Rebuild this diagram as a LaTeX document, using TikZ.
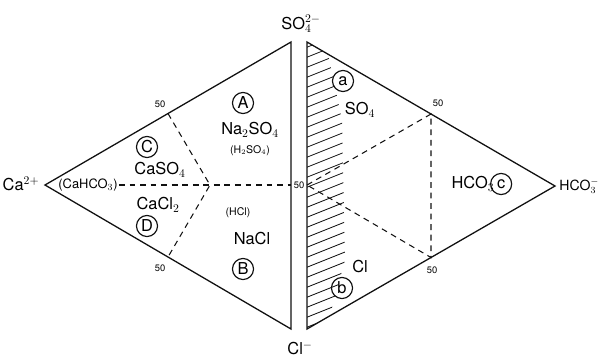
\documentclass[tikz,border=0pt]{standalone}
\usepackage{fontspec}
\setsansfont{TeX Gyre Heros}
\usetikzlibrary{calc}
\begin{document}
\begin{tikzpicture}[x=0.03cm,y=-0.03cm,font=\sffamily\fontsize{14}{16}\selectfont,
  edge/.style={ink,line width=1.1pt,line join=miter},
  guide/.style={ink,line width=0.9pt,dash pattern=on 5pt off 4pt},
  hatch/.style={ink,line width=0.7pt},
  letter/.style={draw=ink,circle,line width=1pt,inner sep=0pt,minimum size=18pt},
  tick/.style={font=\sffamily\fontsize{8}{9}\selectfont}]
  \definecolor{ink}{HTML}{111111}
  \path[use as bounding box] (0,0) rectangle (601,362);
  % corners of the two triangles
  \coordinate (ca)  at (45,185);
  \coordinate (soL) at (291,42);
  \coordinate (clL) at (291,329);
  \coordinate (soR) at (307,42);
  \coordinate (clR) at (307,329);
  \coordinate (hco) at (555,186);
  \coordinate (midL) at (291,185);
  \coordinate (midR) at (307,185);
  \coordinate (upL) at ($(ca)!0.5!(soL)$);
  \coordinate (loL) at ($(ca)!0.5!(clL)$);
  \coordinate (upR) at ($(hco)!0.5!(soR)$);
  \coordinate (loR) at ($(hco)!0.5!(clR)$);
  \coordinate (meet) at (210,185);
  \draw[edge] (ca) -- (soL) -- (clL) -- cycle;
  \draw[edge] (hco) -- (soR) -- (clR) -- cycle;
  % hatched strip
  \begin{scope}
    \clip (soR) -- (328,54) -- (342,120) -- (345,260) -- (330,315) -- (clR) -- cycle;
    \foreach \yy in {40,50,...,350}{\draw[hatch] (300,\yy) -- ++(60,-24);}
  \end{scope}
  % corner ions
  \node (so4) at (301,24) {SO$_4^{2-}$};
  \node (cl) at (300,348) {Cl$^-$};
  \node (ca2) at (21,184) {Ca$^{2+}$};
  \node[anchor=west,inner sep=1pt,font=\sffamily\fontsize{12}{14}\selectfont] (hco3) at (558,186) {HCO$_3^-$};
  % left triangle
  \node[font=\sffamily\fontsize{11}{13}\selectfont,inner sep=1pt] (cahco) at (88,185) {(CaHCO$_3$)};
  \draw[guide] (upL) -- (meet) -- (loL);
  \draw[guide] (cahco.east) -- (midL);
  \node[tick] (t1) at (160,104) {50};
  \node[tick] (t2) at (160,268) {50};
  \node[tick] (t3) at (299,185) {50};
  \node[letter] (C) at (147,147) {C};
  \node (caso) at (160,170) {CaSO$_4$};
  \node (cacl) at (158,205) {CaCl$_2$};
  \node[letter] (D) at (147,226) {D};
  \node[letter] (A) at (243,103) {A};
  \node (naso) at (250,130) {Na$_2$SO$_4$};
  \node[font=\sffamily\fontsize{9}{10}\selectfont] (hso) at (250,151) {(H$_2$SO$_4$)};
  \node[font=\sffamily\fontsize{9}{10}\selectfont] (hcl) at (238,213) {(HCl)};
  \node (nacl) at (252,239) {NaCl};
  \node[letter] (B) at (243,269) {B};
  % right triangle
  \draw[guide] (midR) -- (upR) -- (loR) -- cycle;
  \node[tick] (t4) at (438,103) {50};
  \node[tick] (t5) at (432,270) {50};
  \node[letter] (a) at (343,81) {a};
  \node (so) at (360,110) {SO$_4$};
  \node (chl) at (360,267) {Cl};
  \node[letter] (b) at (342,288) {b};
  \node (hc) at (473,184) {HCO$_3$};
  \node[letter,anchor=west] (c) at (490,184) {c};
\end{tikzpicture}
\end{document}
